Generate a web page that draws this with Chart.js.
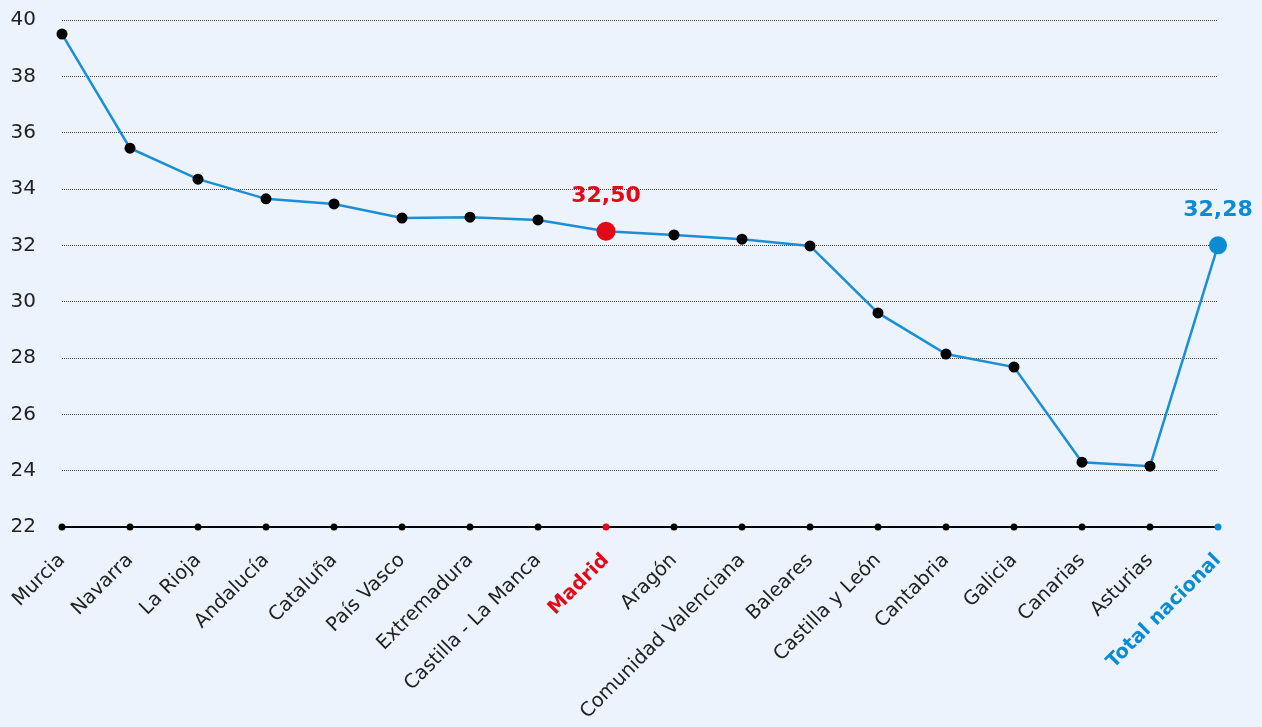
<!DOCTYPE html>
<html lang="es">
  <head>
    <meta charset="UTF-8" />
    <title>Comunidades</title>
    <script src="https://cdn.jsdelivr.net/npm/chart.js@4"></script>
    <style>
      html, body {
        margin: 0;
        padding: 0;
        background: #ecf3fc;
        overflow: hidden;
      }
      .wrap {
        width: 1262px;
        height: 745px;
        margin-top: -18px;
      }
    </style>
  </head>
  <body>
    <div class="wrap"><canvas id="chart"></canvas></div>
    <script>
      // data
      const regions = [
        "Murcia", "Navarra", "La Rioja", "Andalucía", "Cataluña", "País Vasco",
        "Extremadura", "Castilla - La Manca", "Madrid", "Aragón",
        "Comunidad Valenciana", "Baleares", "Castilla y León", "Cantabria",
        "Galicia", "Canarias", "Asturias", "Total nacional"
      ];
      const values = [
        39.5, 35.45, 34.35, 33.65, 33.47, 32.97, 33.0, 32.9, 32.5, 32.37,
        32.22, 31.98, 29.6, 28.14, 27.68, 24.3, 24.16, 32.0
      ];
      const valueLabels = { 8: "32,50", 17: "32,28" };
      const baseline = [22, 22, 22, 22, 22, 22, 22, 22, 22, 22, 22, 22, 22, 22, 22, 22, 22, 22];
      const yTicks = [22, 24, 26, 28, 30, 32, 34, 36, 38, 40];

      const RED = "#e30a17";
      const BLUE = "#0a8bd3";
      const FONT = "'DejaVu Sans', sans-serif";

      function pointColor(i) {
        if (i === 8) return RED;
        if (i === 17) return BLUE;
        return "#000";
      }

      const labelPlugin = {
        id: "valueLabels",
        afterDatasetsDraw(chart) {
          const meta = chart.getDatasetMeta(1);
          const ctx = chart.ctx;
          ctx.save();
          ctx.font = "bold 22px " + FONT;
          ctx.textAlign = "center";
          ctx.textBaseline = "bottom";
          Object.keys(valueLabels).forEach((k) => {
            const i = Number(k);
            const pt = meta.data[i];
            ctx.fillStyle = pointColor(i);
            ctx.fillText(valueLabels[k], pt.x, pt.y - 24);
          });
          ctx.restore();
        },
      };

      new Chart(document.getElementById("chart"), {
        type: "line",
        data: {
          labels: regions,
          datasets: [
            {
              data: baseline,
              clip: false,
              borderColor: "#000",
              borderWidth: 2,
              pointRadius: 3.5,
              pointBackgroundColor: regions.map((r, i) => pointColor(i)),
              pointBorderWidth: 0,
            },
            {
              data: values,
              clip: false,
              borderColor: "#1a8fd6",
              borderWidth: 2.5,
              tension: 0,
              pointRadius: values.map((v, i) => (i === 8 ? 9.5 : i === 17 ? 9 : 5.5)),
              pointBackgroundColor: regions.map((r, i) => pointColor(i)),
              pointBorderWidth: 0,
            },
          ],
        },
        options: {
          responsive: true,
          maintainAspectRatio: false,
          animation: false,
          layout: { autoPadding: false, padding: { top: 8, right: 44, left: 0, bottom: 0 } },
          plugins: {
            legend: { display: false },
            tooltip: { enabled: false },
          },
          scales: {
            x: {
              offset: false,
              grid: { display: false },
              border: { display: false },
              afterFit: (axis) => {
                axis.height = 200;
              },
              ticks: {
                minRotation: 45,
                maxRotation: 45,
                padding: 14,
                font: (c) => ({
                  family: FONT,
                  size: 19.5,
                  weight: c.index === 8 || c.index === 17 ? "bold" : "normal",
                }),
                color: (c) => (c.index === 8 ? RED : c.index === 17 ? BLUE : "#222"),
              },
            },
            y: {
              min: 22,
              max: 40,
              afterBuildTicks: (axis) => {
                axis.ticks = yTicks.map((v) => ({ value: v }));
              },
              afterFit: (axis) => {
                axis.width = 62;
              },
              grid: {
                color: (c) => (c.tick && c.tick.value === 22 ? "rgba(0,0,0,0)" : "#444"),
                lineWidth: 1,
                drawTicks: false,
              },
              border: { display: false, dash: [1, 1] },
              ticks: {
                padding: 26,
                font: { family: FONT, size: 20 },
                color: "#222",
              },
            },
          },
        },
        plugins: [labelPlugin],
      });
    </script>
  </body>
</html>
